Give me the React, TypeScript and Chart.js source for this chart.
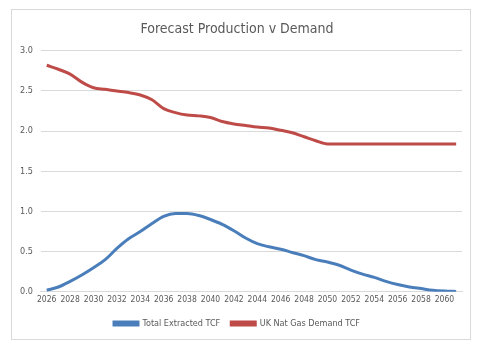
import React, { useEffect, useRef } from "react";
import { Chart, registerables } from "chart.js";

Chart.register(...registerables);

const years: string[] = [];
for (let y = 2026; y <= 2061; y++) years.push(String(y));

const totalExtracted = [
  0.02, 0.06, 0.13, 0.21, 0.3, 0.4, 0.54, 0.66, 0.75, 0.85, 0.94, 0.975,
  0.975, 0.95, 0.9, 0.84, 0.76, 0.67, 0.6, 0.56, 0.53, 0.49, 0.45, 0.4,
  0.37, 0.33, 0.27, 0.22, 0.18, 0.13, 0.09, 0.06, 0.04, 0.02, 0.01, 0.005,
];

const ukDemand = [
  2.82, 2.77, 2.71, 2.61, 2.54, 2.52, 2.5, 2.48, 2.45, 2.39, 2.28, 2.23,
  2.2, 2.19, 2.17, 2.12, 2.09, 2.07, 2.05, 2.04, 2.01, 1.98, 1.93, 1.88,
  1.84, 1.84, 1.84, 1.84, 1.84, 1.84, 1.84, 1.84, 1.84, 1.84, 1.84, 1.84,
];

const FONT = '"Liberation Sans Narrow", "DejaVu Sans Condensed", "Liberation Sans", sans-serif';
const TEXT = "#595959";

export default function App() {
  const ref = useRef<HTMLCanvasElement>(null);
  useEffect(() => {
    if (!ref.current) return;
    const chart = new Chart(ref.current, {
      type: "line",
      data: {
        labels: years,
        datasets: [
          {
            label: "Total Extracted TCF",
            data: totalExtracted,
            borderColor: "#4a7ebb",
            backgroundColor: "#4a7ebb",
            borderWidth: 3,
            pointRadius: 0,
            cubicInterpolationMode: "monotone",
          },
          {
            label: "UK Nat Gas Demand TCF",
            data: ukDemand,
            borderColor: "#be4b48",
            backgroundColor: "#be4b48",
            borderWidth: 3,
            pointRadius: 0,
            cubicInterpolationMode: "monotone",
          },
        ],
      },
      options: {
        animation: false,
        responsive: false,
        maintainAspectRatio: false,
        layout: { padding: { left: 0, right: 8, top: 0, bottom: 1 } },
        plugins: {
          title: {
            display: true,
            text: "Forecast Production v Demand",
            color: TEXT,
            font: { family: FONT, size: 14, weight: "normal" },
            padding: { top: 11, bottom: 13 },
          },
          legend: {
            position: "bottom",
            labels: {
              color: TEXT,
              font: { family: FONT, size: 9 },
              boxWidth: 24,
              boxHeight: 3,
              padding: 11,
            },
          },
          tooltip: { enabled: false },
        },
        scales: {
          x: {
            offset: true,
            grid: { display: false, drawTicks: false },
            border: { display: true, color: "#d9d9d9" },
            ticks: {
              autoSkip: false,
              maxRotation: 0,
              minRotation: 0,
              color: TEXT,
              padding: 3,
              font: { family: FONT, size: 8.5 },
              callback: (_v: any, i: number) => (i % 2 === 0 ? years[i] : ""),
            },
          },
          y: {
            min: 0,
            max: 3,
            border: { display: false },
            grid: { color: "#d9d9d9", drawTicks: false },
            ticks: {
              stepSize: 0.5,
              color: TEXT,
              padding: 8,
              font: { family: FONT, size: 9 },
              callback: (v: any) => Number(v).toFixed(1),
            },
          },
        },
      },
    });
    return () => chart.destroy();
  }, []);
  return (
    <div
      style={{
        position: "absolute",
        left: 11,
        top: 9,
        width: 460,
        height: 331,
        border: "1px solid #d9d9d9",
        boxSizing: "border-box",
        background: "#fff",
      }}
    >
      <canvas ref={ref} width={458} height={329} style={{ display: "block" }} />
    </div>
  );
}
